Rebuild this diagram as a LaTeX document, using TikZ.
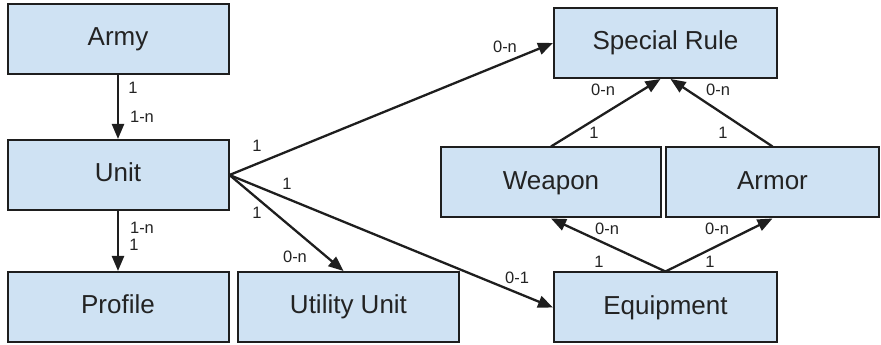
\documentclass[tikz,border=0pt]{standalone}
\usepackage{fontspec}
\setmainfont{Liberation Sans}
\usetikzlibrary{arrows.meta,calc}

\begin{document}
\begin{tikzpicture}[x=1pt,y=1pt,line width=0.4pt,
  entity/.style={draw=figedge,fill=figfill,line width=2pt,minimum width=221pt,minimum height=70pt,inner sep=0pt,text height=19pt,text depth=5.5pt,font=\fbig,text=figtext},
  rel/.style={draw=figedge,line width=2.3pt,-{Triangle[length=15pt,width=12pt]}},
  card/.style={inner sep=0pt,font=\fsmall,text=figtext}]
\definecolor{figfill}{RGB}{207,226,243}
\definecolor{figedge}{RGB}{30,30,30}
\definecolor{figtext}{RGB}{35,35,35}
\providecommand{\fbig}{\fontsize{26}{30}\selectfont}
\providecommand{\fsmall}{\fontsize{16.5}{19}\selectfont}
\useasboundingbox (0,0) rectangle (881,345);
% entities
\node[entity] (army) at (118,306) {Army};
\node[entity] (unit) at (118,170) {Unit};
\node[entity] (profile) at (118,38) {Profile};
\node[entity] (util) at (348.5,38) {Utility Unit};
\node[entity,minimum width=223pt] (rule) at (665.5,302) {Special Rule};
\node[entity,minimum width=220pt] (weapon) at (551,162.5) {Weapon};
\node[entity,minimum width=213pt] (armor) at (772.5,162.5) {Armor};
\node[entity,minimum width=223pt] (equip) at (665.5,37.5) {Equipment};
% relations
\draw[rel] (army.south) -- (unit.north);
\draw[rel] (unit.south) -- (profile.north);
\draw[rel] (unit.east) -- (rule.west);
\draw[rel] (unit.east) -- (equip.west);
\draw[rel] (unit.east) -- ($(util.north)+(-5,0)$);
\draw[rel] (weapon.north) -- ($(rule.south)+(-5,0)$);
\draw[rel] (armor.north) -- ($(rule.south)+(5,0)$);
\draw[rel] (equip.north) -- (weapon.south);
\draw[rel] (equip.north) -- (armor.south);
% cardinalities
\node[card] (c-army) at (133,257) {1};
\node[card] (c-army-unit) at (142,228) {1-n};
\node[card] (c-unit-profile) at (142,117) {1-n};
\node[card] (c-profile) at (134,100) {1};
\node[card] (c-unit-rule) at (257,199) {1};
\node[card] (c-unit-equip) at (287,161) {1};
\node[card] (c-unit-util) at (257,132) {1};
\node[card] (c-util) at (295,88) {0-n};
\node[card] (c-rule-unit) at (505,298) {0-n};
\node[card] (c-equip-unit) at (517,67) {0-1};
\node[card] (c-rule-weapon) at (603,255) {0-n};
\node[card] (c-weapon-rule) at (594,212) {1};
\node[card] (c-rule-armor) at (718,255) {0-n};
\node[card] (c-armor-rule) at (723,212) {1};
\node[card] (c-weapon-equip) at (607,116) {0-n};
\node[card] (c-equip-weapon) at (599,83) {1};
\node[card] (c-armor-equip) at (717,116) {0-n};
\node[card] (c-equip-armor) at (710,83) {1};
\end{tikzpicture}
\end{document}
